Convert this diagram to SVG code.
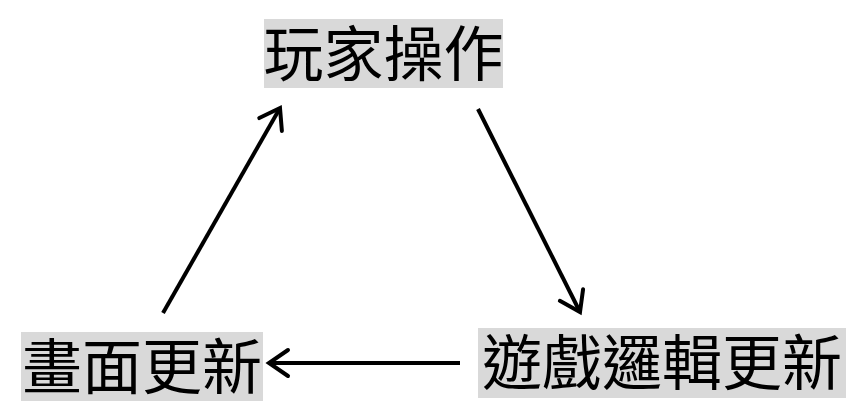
<svg xmlns="http://www.w3.org/2000/svg" width="854" height="411" viewBox="0 0 854 411">
<defs>
<style>
.box{fill:#d9d9d9;}
.lbl{font-family:"Noto Sans CJK TC","Noto Sans CJK SC",sans-serif;font-size:60px;fill:#000;text-anchor:middle;}
.conn{stroke:#000;stroke-width:4;fill:none;}
</style>
<marker id="arr" markerUnits="userSpaceOnUse" markerWidth="40" markerHeight="40" viewBox="-25 -20 30 40" refX="0" refY="0" orient="auto">
<path d="M -19 -13 L 0 0 L -19 13" fill="none" stroke="#000" stroke-width="4" stroke-linecap="round" stroke-linejoin="miter"/>
</marker>
</defs>
<rect width="854" height="411" fill="#fff"/>
<g id="connectors">
<line class="conn" x1="163" y1="313" x2="280" y2="108" marker-end="url(#arr)"/>
<line class="conn" x1="478" y1="109" x2="580" y2="312" marker-end="url(#arr)"/>
<line class="conn" x1="460" y1="363" x2="269" y2="363" marker-end="url(#arr)"/>
</g>
<g id="node-player">
<rect class="box" x="264" y="19" width="239" height="69"/>
<text class="lbl" x="383.5" y="76">玩家操作</text>
</g>
<g id="node-render">
<rect class="box" x="21" y="332" width="242" height="69"/>
<text class="lbl" x="142" y="389">畫面更新</text>
</g>
<g id="node-logic">
<rect class="box" x="478" y="328" width="368" height="70"/>
<text class="lbl" x="662" y="385">遊戲邏輯更新</text>
</g>
</svg>
